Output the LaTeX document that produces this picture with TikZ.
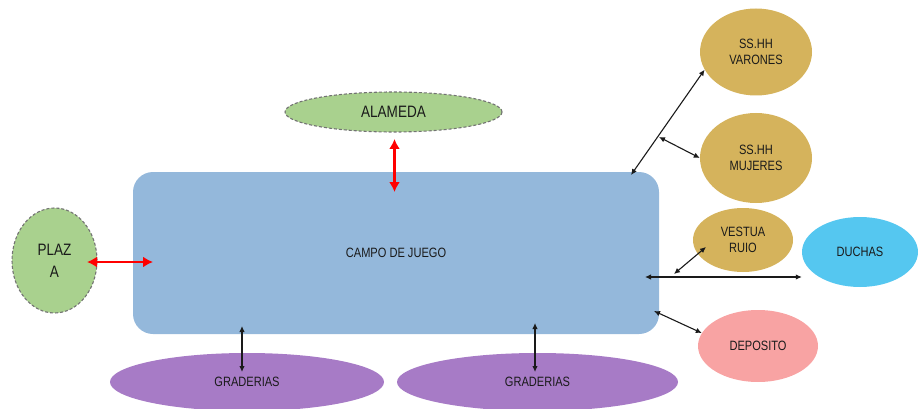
\documentclass[tikz,border=0pt]{standalone}
\usepackage{fontspec}
\newfontfamily\lblfont{Liberation Sans}[FakeStretch=0.82]
\usetikzlibrary{shapes.geometric,arrows.meta}
\definecolor{campoc}{HTML}{94B8DB}
\definecolor{greenc}{HTML}{A9D18E}
\definecolor{goldc}{HTML}{D5B35C}
\definecolor{duchac}{HTML}{55C7F0}
\definecolor{depoc}{HTML}{F8A3A3}
\definecolor{purpc}{HTML}{A77BC6}
\definecolor{txtc}{HTML}{1A1A1A}
\tikzset{
  lbl/.style={font=\lblfont\fontsize{13.5}{16.5}\selectfont, text=txtc, align=center},
  biglbl/.style={font=\lblfont\fontsize{16.5}{22}\selectfont, text=txtc, align=center},
  ell/.style={ellipse, inner sep=0pt, draw=none, lbl},
  greenell/.style={ellipse, inner sep=0pt, fill=greenc, draw=black!55, line width=1.1pt, dash pattern=on 3pt off 2pt, biglbl},
  bi/.style={{Latex[length=6pt,width=5.5pt]}-{Latex[length=6pt,width=5.5pt]}, line width=1.1pt, draw=txtc},
  redbi/.style={{Latex[length=10pt,width=11pt]}-{Latex[length=10pt,width=11pt]}, line width=2.8pt, draw=red}
}
\begin{document}
\begin{tikzpicture}[x=1pt,y=-1pt]
\useasboundingbox (0,0) rectangle (918,409);
% nodes
\node[greenell, minimum width=217pt, minimum height=40pt] (alameda) at (393.5,112) {ALAMEDA};
\node[greenell, minimum width=85pt, minimum height=105pt] (plaza) at (54.5,260.5) {PLAZ\\A};
\node[ell, fill=goldc, minimum width=112pt, minimum height=87pt] (varones) at (756,52) {SS.HH\\VARONES};
\node[ell, fill=goldc, minimum width=112pt, minimum height=90pt] (mujeres) at (756,158) {SS.HH\\MUJERES};
\node[ell, fill=goldc, minimum width=100pt, minimum height=64pt] (vestuario) at (743,240) {VESTUA\\RUIO};
\node[ell, fill=duchac, minimum width=116pt, minimum height=70pt] (duchas) at (860,252) {DUCHAS};
\node[ell, fill=depoc, minimum width=120pt, minimum height=72pt] (deposito) at (758,346) {DEPOSITO};
\node[ell, fill=purpc, minimum width=274pt, minimum height=58pt] (grad1) at (247,382) {GRADERIAS};
\node[ell, fill=purpc, minimum width=281pt, minimum height=58pt] (grad2) at (537.5,382) {GRADERIAS};
\node[rectangle, rounded corners=20pt, fill=campoc, minimum width=526pt, minimum height=162pt, inner sep=0pt, lbl] (campo) at (396,253) {CAMPO DE JUEGO};
% connector ends
\coordinate (cv) at (631,175);
\coordinate (jm) at (659,137);
\coordinate (hl) at (645,277);
\coordinate (jv) at (674,274);
\coordinate (vt) at (706,247);
\coordinate (cd) at (654,311);
\coordinate (g1t) at (242,326);
\coordinate (g1b) at (242,372);
\coordinate (g2t) at (535,323);
\coordinate (g2b) at (535,372);
\coordinate (pl) at (87,262);
\coordinate (pr) at (153,262);
\coordinate (at) at (394.5,139);
\coordinate (ab) at (394.5,192);
% connectors
\draw[redbi] (pl) -- (pr);
\draw[redbi] (at) -- (ab);
\draw[bi] (cv) -- (varones.199);
\draw[bi] (jm) -- (mujeres.west);
\draw[bi] (hl) -- (duchas.west |- hl);
\draw[bi] (jv) -- (vt);
\draw[bi] (cd) -- (deposito.167);
\draw[bi] (g1t) -- (g1b);
\draw[bi] (g2t) -- (g2b);
\end{tikzpicture}
\end{document}
